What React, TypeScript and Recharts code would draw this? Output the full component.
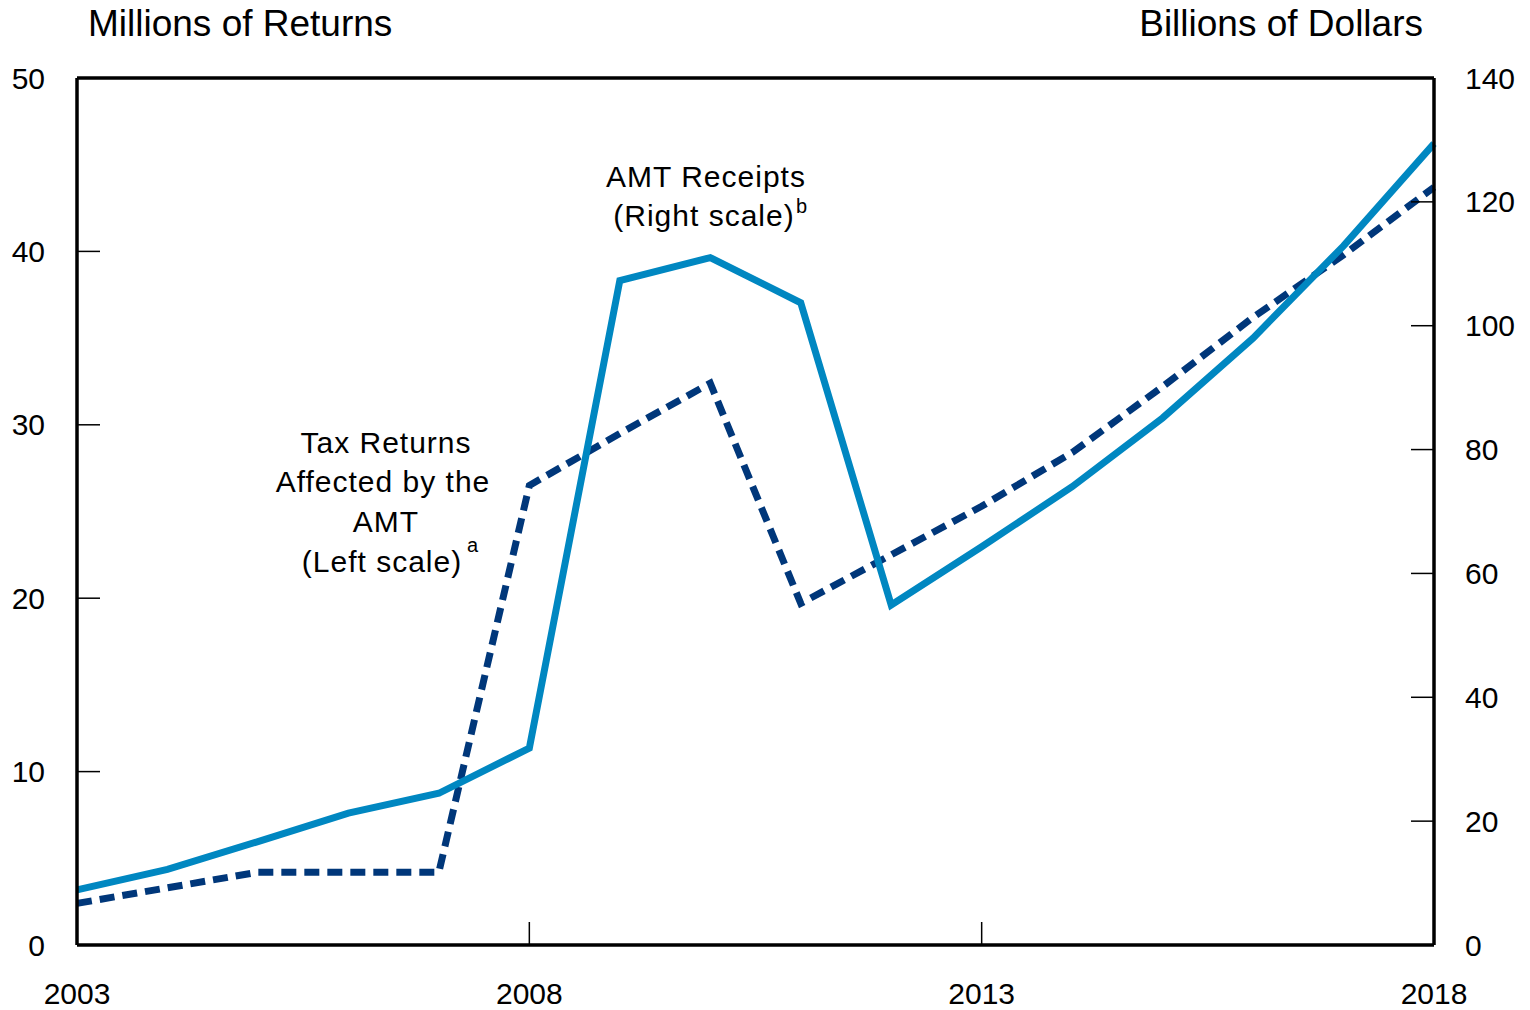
import { LineChart, Line, XAxis, YAxis, ReferenceLine } from "recharts";

const years = [
  2003, 2004, 2005, 2006, 2007, 2008, 2009, 2010, 2011, 2012, 2013, 2014,
  2015, 2016, 2017, 2018,
];
// millions of returns (left scale)
const taxReturnsMillions = [
  2.4, 3.3, 4.2, 4.2, 4.2, 26.5, 29.5, 32.4, 19.7, 22.5, 25.3, 28.4, 32.2,
  36.2, 39.8, 43.7,
];
// billions of dollars (right scale)
const amtReceiptsBillions = [
  8.9, 12.2, 16.7, 21.3, 24.5, 31.8, 107.3, 111.0, 103.7, 54.9, 64.3, 74.0,
  85.1, 98.0, 112.9, 129.4,
];
const yearTicks = [2003, 2008, 2013, 2018];
const leftTicks = [0, 10, 20, 30, 40, 50];
const rightTicks = [0, 20, 40, 60, 80, 100, 120, 140];

const data = years.map((year, i) => ({
  year,
  returns: taxReturnsMillions[i],
  receipts: amtReceiptsBillions[i],
}));

const FONT = "'Liberation Sans', Arial, sans-serif";
const W = 1530;
const H = 1010;

const LeftTick = ({ x, y, payload }: any) => (
  <g>
    <line x1={x} x2={x + 23} y1={y} y2={y} stroke="#000" strokeWidth={1.5} />
    <text
      x={x - 32}
      y={y}
      textAnchor="end"
      dominantBaseline="central"
      fontSize={30}
      fontFamily={FONT}
      fill="#000"
    >
      {payload.value}
    </text>
  </g>
);

const RightTick = ({ x, y, payload }: any) => (
  <g>
    <line x1={x} x2={x - 23} y1={y} y2={y} stroke="#000" strokeWidth={1.5} />
    <text
      x={x + 31}
      y={y}
      textAnchor="start"
      dominantBaseline="central"
      fontSize={30}
      fontFamily={FONT}
      fill="#000"
    >
      {payload.value}
    </text>
  </g>
);

const YearTick = ({ x, y, payload }: any) => (
  <g>
    <line x1={x} x2={x} y1={y} y2={y - 23} stroke="#000" strokeWidth={1.5} />
    <text
      x={x}
      y={y + 59}
      textAnchor="middle"
      fontSize={30}
      fontFamily={FONT}
      fill="#000"
    >
      {payload.value}
    </text>
  </g>
);

const axisLine = { stroke: "#000", strokeWidth: 3.5 };

export default function App() {
  return (
    <div
      style={{
        position: "absolute",
        left: 0,
        top: 0,
        width: W,
        height: H,
        background: "#fff",
      }}
    >
      <LineChart
        width={W}
        height={H}
        data={data}
        margin={{ top: 78, right: 0, bottom: 0, left: 0 }}
      >
        <XAxis
          dataKey="year"
          type="number"
          domain={[2003, 2018]}
          ticks={yearTicks}
          interval={0}
          height={65}
          tickSize={0}
          tickMargin={0}
          tickLine={false}
          axisLine={axisLine}
          tick={<YearTick />}
        />
        <YAxis
          yAxisId="left"
          domain={[0, 50]}
          ticks={leftTicks}
          interval={0}
          width={77}
          tickSize={0}
          tickMargin={0}
          tickLine={false}
          axisLine={axisLine}
          tick={<LeftTick />}
        />
        <YAxis
          yAxisId="right"
          orientation="right"
          domain={[0, 140]}
          ticks={rightTicks}
          interval={0}
          width={96}
          tickSize={0}
          tickMargin={0}
          tickLine={false}
          axisLine={axisLine}
          tick={<RightTick />}
        />
        {/* top border of the plot box */}
        <ReferenceLine
          yAxisId="left"
          y={50}
          stroke="#000"
          strokeWidth={3.5}
          ifOverflow="visible"
        />
        <Line
          yAxisId="left"
          dataKey="returns"
          stroke="#00377A"
          strokeWidth={7}
          strokeDasharray="15 8"
          dot={false}
          activeDot={false}
          isAnimationActive={false}
        />
        <Line
          yAxisId="right"
          dataKey="receipts"
          stroke="#0087C1"
          strokeWidth={7}
          dot={false}
          activeDot={false}
          isAnimationActive={false}
        />
      </LineChart>
      <svg
        width={W}
        height={H}
        style={{ position: "absolute", left: 0, top: 0, pointerEvents: "none" }}
        fontFamily={FONT}
        fill="#000"
      >
        <text x={88} y={36} fontSize={37}>
          Millions of Returns
        </text>
        <text x={1423} y={36} fontSize={37} textAnchor="end">
          Billions of Dollars
        </text>

        <g fontSize={30} textAnchor="middle" letterSpacing={1}>
          <text x={386} y={453}>Tax Returns</text>
          <text x={383} y={492}>Affected by the</text>
          <text x={386} y={532}>AMT</text>
          <text x={382} y={572}>(Left scale)</text>
          <text x={706} y={187}>AMT Receipts</text>
          <text x={704} y={226}>(Right scale)</text>
        </g>
        <text x={467} y={552} fontSize={20}>
          a
        </text>
        <text x={796} y={213} fontSize={20}>
          b
        </text>
      </svg>
    </div>
  );
}
